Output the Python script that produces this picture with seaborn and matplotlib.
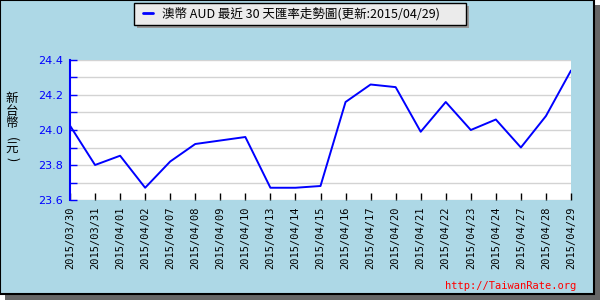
import matplotlib
matplotlib.use("Agg")
import matplotlib.pyplot as plt
from matplotlib.patches import Rectangle
from matplotlib.lines import Line2D
from matplotlib.ticker import MultipleLocator
import seaborn as sns
import pandas as pd

dates = ["2015/03/30", "2015/03/31", "2015/04/01", "2015/04/02", "2015/04/07",
         "2015/04/08", "2015/04/09", "2015/04/10", "2015/04/13", "2015/04/14",
         "2015/04/15", "2015/04/16", "2015/04/17", "2015/04/20", "2015/04/21",
         "2015/04/22", "2015/04/23", "2015/04/24", "2015/04/27", "2015/04/28",
         "2015/04/29"]
rates = [24.025, 23.80, 23.853, 23.67, 23.82, 23.92, 23.94, 23.96, 23.67, 23.67,
         23.68, 24.16, 24.26, 24.245, 23.99, 24.16, 24.00, 24.06, 23.90, 24.08,
         24.34]
title_text = "澳幣 AUD 最近 30 天匯率走勢圖(更新:2015/04/29)"
ylabel_chars = ["新", "台", "幣", "(", "元", ")"]
watermark = "http://TaiwanRate.org"

sns.set_theme(style="white")
plt.rcParams['font.family'] = ['Noto Sans CJK TC', 'DejaVu Sans']

W, H = 600, 300
fig = plt.figure(figsize=(6, 3), dpi=100)
fig.patch.set_facecolor("white")

def px(x, y, w, h):
    return (x / W, 1 - (y + h) / H, w / W, h / H)

# shadows and background frame
x0, y0, w0, h0 = px(5, 5, 595, 295)
fig.patches.append(Rectangle((x0, y0), w0, h0, transform=fig.transFigure,
                             facecolor="#666666", edgecolor="none", zorder=-3))
x0, y0, w0, h0 = px(0, 0, 594, 294)
fig.patches.append(Rectangle((x0, y0), w0, h0, transform=fig.transFigure,
                             facecolor="#ADD8E6", edgecolor="black", linewidth=1.5, zorder=-2))

ax = fig.add_axes([70 / W, 1 - 200 / H, (571 - 70) / W, 140 / H])
ax.set_facecolor("white")

df = pd.DataFrame({"date": dates, "rate": rates})
df["idx"] = range(len(df))
sns.lineplot(data=df, x="idx", y="rate", ax=ax, color="#0000FF", linewidth=1.4, zorder=3)

ax.set_xlim(0, len(dates) - 1)
ax.set_ylim(23.6, 24.4)
ax.set_xticks(range(len(dates)))
ax.set_xticklabels(dates, rotation=90, family="DejaVu Sans Mono", fontsize=7.5, color="black")
ax.yaxis.set_minor_locator(MultipleLocator(0.1))
ax.set_yticks([23.6, 23.8, 24.0, 24.2, 24.4])
ax.set_yticklabels(["23.6", "23.8", "24.0", "24.2", "24.4"], fontsize=8, color="#0000FF",
                   family="DejaVu Sans")
ax.tick_params(axis="x", direction="in", length=5, width=1, color="black", pad=5, bottom=True)
ax.tick_params(axis="y", which="both", direction="in", length=5, width=1, color="#0000FF",
               pad=5, left=True)
ax.grid(True, axis="y", which="both", color="#D3D3D3", linewidth=1)
ax.set_axisbelow(True)
for s in ["top", "right", "bottom"]:
    ax.spines[s].set_visible(False)
ax.spines["left"].set_color("#0000FF")
ax.spines["left"].set_linewidth(1.5)
ax.set_xlabel("")
ax.set_ylabel("")

# y label stacked characters
ys = [98, 111, 124, 139, 149, 159]
rots = [0, 0, 0, -90, 0, -90]
sizes = [9, 9, 9, 9, 9, 9]
for ch, yy, r, s in zip(ylabel_chars, ys, rots, sizes):
    fig.text(12 / W, 1 - yy / H, ch, ha="center", va="center", fontsize=s, color="black",
             rotation=r, family=["Noto Sans CJK TC", "DejaVu Sans"])

# legend/title box with shadow
x0, y0, w0, h0 = px(137, 6, 332, 22)
fig.patches.append(Rectangle((x0, y0), w0, h0, transform=fig.transFigure,
                             facecolor="#999999", edgecolor="none", zorder=1))
x0, y0, w0, h0 = px(134, 3, 332, 22)
fig.patches.append(Rectangle((x0, y0), w0, h0, transform=fig.transFigure,
                             facecolor="#EBEBEB", edgecolor="black", linewidth=1, zorder=2))
fig.lines.append(Line2D([143 / W, 153 / W], [1 - 13 / H, 1 - 13 / H], transform=fig.transFigure,
                        color="#0000FF", linewidth=2, zorder=3))
fig.text(162 / W, 1 - 14 / H, title_text, ha="left", va="center", fontsize=9, color="black",
         family=["Noto Sans CJK TC", "DejaVu Sans"], zorder=3)

fig.text(576 / W, 1 - 286 / H, watermark, ha="right", va="center", fontsize=7.5, color="red",
         family="DejaVu Sans Mono")

fig.savefig("out.png", dpi=100, facecolor=fig.get_facecolor())
